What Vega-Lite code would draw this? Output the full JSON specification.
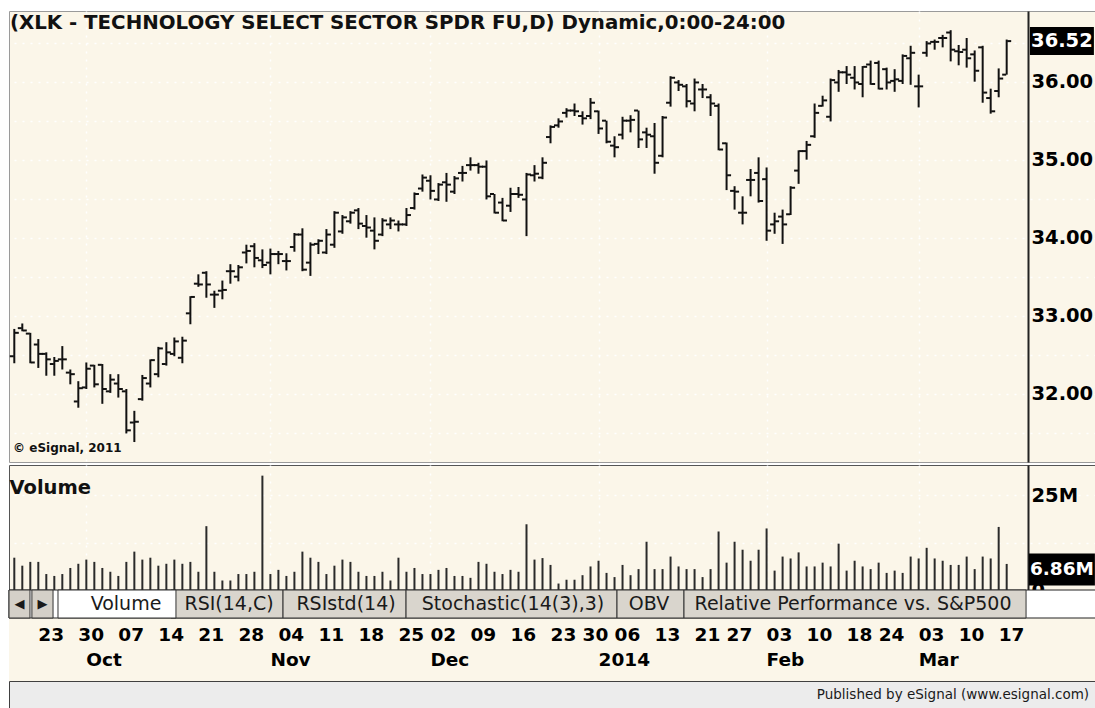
{
  "$schema": "https://vega.github.io/schema/vega-lite/v6.json",
  "background": "#FFFFFF",
  "padding": {"left": 8, "top": 10, "right": 0, "bottom": 0},
  "spacing": 3,
  "bounds": "flush",
  "config": {
    "font": "DejaVu Sans",
    "text": {"font": "DejaVu Sans"},
    "axis": {"labelFont": "DejaVu Sans"}
  },
  "datasets": {
    "bars": [
      {"i":0,"o":32.48,"h":32.83,"l":32.39,"c":32.78,"v":8.5},
      {"i":1,"o":32.84,"h":32.90,"l":32.80,"c":32.81,"v":6.4},
      {"i":2,"o":32.77,"h":32.78,"l":32.39,"c":32.40,"v":7.4},
      {"i":3,"o":32.63,"h":32.70,"l":32.33,"c":32.51,"v":7.4},
      {"i":4,"o":32.51,"h":32.53,"l":32.23,"c":32.44,"v":4.2},
      {"i":5,"o":32.38,"h":32.47,"l":32.23,"c":32.42,"v":3.7},
      {"i":6,"o":32.44,"h":32.61,"l":32.31,"c":32.44,"v":4.2},
      {"i":7,"o":32.27,"h":32.31,"l":32.12,"c":32.25,"v":5.8},
      {"i":8,"o":31.90,"h":32.16,"l":31.82,"c":32.07,"v":6.9},
      {"i":9,"o":32.08,"h":32.40,"l":32.06,"c":32.32,"v":8.0},
      {"i":10,"o":32.36,"h":32.37,"l":32.08,"c":32.12,"v":7.4},
      {"i":11,"o":32.37,"h":32.38,"l":31.87,"c":32.06,"v":5.8},
      {"i":12,"o":32.03,"h":32.25,"l":32.01,"c":32.18,"v":4.8},
      {"i":13,"o":32.13,"h":32.25,"l":31.95,"c":32.06,"v":3.7},
      {"i":14,"o":32.03,"h":32.06,"l":31.49,"c":31.53,"v":7.4},
      {"i":15,"o":31.63,"h":31.78,"l":31.38,"c":31.64,"v":10.1},
      {"i":16,"o":31.93,"h":32.24,"l":31.91,"c":32.20,"v":8.0},
      {"i":17,"o":32.13,"h":32.44,"l":32.08,"c":32.43,"v":8.5},
      {"i":18,"o":32.25,"h":32.60,"l":32.21,"c":32.58,"v":6.4},
      {"i":19,"o":32.38,"h":32.66,"l":32.36,"c":32.53,"v":6.9},
      {"i":20,"o":32.51,"h":32.72,"l":32.48,"c":32.67,"v":8.0},
      {"i":21,"o":32.46,"h":32.73,"l":32.39,"c":32.68,"v":6.9},
      {"i":22,"o":33.03,"h":33.25,"l":32.89,"c":33.24,"v":7.4},
      {"i":23,"o":33.41,"h":33.53,"l":33.37,"c":33.40,"v":4.8},
      {"i":24,"o":33.55,"h":33.57,"l":33.23,"c":33.40,"v":16.8},
      {"i":25,"o":33.27,"h":33.32,"l":33.10,"c":33.27,"v":4.8},
      {"i":26,"o":33.32,"h":33.45,"l":33.21,"c":33.33,"v":2.5},
      {"i":27,"o":33.57,"h":33.66,"l":33.41,"c":33.57,"v":2.5},
      {"i":28,"o":33.50,"h":33.65,"l":33.44,"c":33.62,"v":4.2},
      {"i":29,"o":33.81,"h":33.91,"l":33.67,"c":33.83,"v":4.2},
      {"i":30,"o":33.89,"h":33.93,"l":33.62,"c":33.74,"v":4.8},
      {"i":31,"o":33.71,"h":33.85,"l":33.61,"c":33.65,"v":30.1},
      {"i":32,"o":33.68,"h":33.86,"l":33.53,"c":33.79,"v":4.2},
      {"i":33,"o":33.79,"h":33.83,"l":33.66,"c":33.79,"v":5.3},
      {"i":34,"o":33.70,"h":33.80,"l":33.58,"c":33.70,"v":3.7},
      {"i":35,"o":33.88,"h":34.06,"l":33.82,"c":34.04,"v":4.8},
      {"i":36,"o":34.04,"h":34.12,"l":33.57,"c":33.59,"v":10.1},
      {"i":37,"o":33.68,"h":33.94,"l":33.51,"c":33.91,"v":8.5},
      {"i":38,"o":33.92,"h":33.98,"l":33.79,"c":33.96,"v":7.4},
      {"i":39,"o":33.81,"h":34.11,"l":33.79,"c":34.04,"v":4.2},
      {"i":40,"o":33.91,"h":34.34,"l":33.87,"c":34.32,"v":6.4},
      {"i":41,"o":34.08,"h":34.29,"l":34.05,"c":34.26,"v":8.0},
      {"i":42,"o":34.21,"h":34.34,"l":34.18,"c":34.32,"v":7.4},
      {"i":43,"o":34.35,"h":34.38,"l":34.11,"c":34.18,"v":4.8},
      {"i":44,"o":34.15,"h":34.29,"l":34.00,"c":34.13,"v":3.7},
      {"i":45,"o":34.09,"h":34.26,"l":33.85,"c":33.96,"v":3.7},
      {"i":46,"o":34.04,"h":34.25,"l":34.02,"c":34.22,"v":4.8},
      {"i":47,"o":34.17,"h":34.26,"l":34.11,"c":34.22,"v":2.5},
      {"i":48,"o":34.17,"h":34.22,"l":34.08,"c":34.17,"v":8.5},
      {"i":49,"o":34.17,"h":34.38,"l":34.15,"c":34.29,"v":4.8},
      {"i":50,"o":34.38,"h":34.58,"l":34.36,"c":34.56,"v":5.8},
      {"i":51,"o":34.63,"h":34.81,"l":34.59,"c":34.77,"v":4.2},
      {"i":52,"o":34.73,"h":34.80,"l":34.49,"c":34.60,"v":4.2},
      {"i":53,"o":34.49,"h":34.70,"l":34.47,"c":34.68,"v":5.3},
      {"i":54,"o":34.71,"h":34.83,"l":34.46,"c":34.68,"v":5.8},
      {"i":55,"o":34.59,"h":34.79,"l":34.56,"c":34.76,"v":3.7},
      {"i":56,"o":34.83,"h":34.92,"l":34.72,"c":34.83,"v":3.7},
      {"i":57,"o":34.93,"h":35.03,"l":34.86,"c":34.93,"v":3.2},
      {"i":58,"o":34.93,"h":34.96,"l":34.82,"c":34.91,"v":7.4},
      {"i":59,"o":34.91,"h":34.99,"l":34.49,"c":34.53,"v":6.9},
      {"i":60,"o":34.56,"h":34.56,"l":34.31,"c":34.32,"v":4.8},
      {"i":61,"o":34.45,"h":34.51,"l":34.21,"c":34.22,"v":4.2},
      {"i":62,"o":34.41,"h":34.64,"l":34.33,"c":34.56,"v":5.3},
      {"i":63,"o":34.56,"h":34.65,"l":34.51,"c":34.55,"v":4.8},
      {"i":64,"o":34.49,"h":34.83,"l":34.02,"c":34.81,"v":17.3},
      {"i":65,"o":34.80,"h":34.93,"l":34.72,"c":34.82,"v":8.0},
      {"i":66,"o":34.77,"h":35.03,"l":34.75,"c":34.96,"v":8.4},
      {"i":67,"o":35.29,"h":35.44,"l":35.21,"c":35.42,"v":6.6},
      {"i":68,"o":35.44,"h":35.53,"l":35.41,"c":35.49,"v":1.7},
      {"i":69,"o":35.60,"h":35.66,"l":35.54,"c":35.63,"v":2.7},
      {"i":70,"o":35.63,"h":35.72,"l":35.56,"c":35.62,"v":2.7},
      {"i":71,"o":35.56,"h":35.62,"l":35.45,"c":35.53,"v":3.9},
      {"i":72,"o":35.56,"h":35.79,"l":35.52,"c":35.73,"v":6.2},
      {"i":73,"o":35.62,"h":35.63,"l":35.33,"c":35.40,"v":7.7},
      {"i":74,"o":35.50,"h":35.50,"l":35.21,"c":35.23,"v":4.5},
      {"i":75,"o":35.18,"h":35.30,"l":35.03,"c":35.16,"v":3.4},
      {"i":76,"o":35.32,"h":35.55,"l":35.26,"c":35.50,"v":6.6},
      {"i":77,"o":35.50,"h":35.57,"l":35.35,"c":35.51,"v":3.9},
      {"i":78,"o":35.63,"h":35.63,"l":35.15,"c":35.26,"v":5.5},
      {"i":79,"o":35.35,"h":35.41,"l":35.15,"c":35.32,"v":12.7},
      {"i":80,"o":35.30,"h":35.47,"l":34.82,"c":34.96,"v":5.5},
      {"i":81,"o":35.05,"h":35.56,"l":35.03,"c":35.54,"v":5.5},
      {"i":82,"o":35.73,"h":36.07,"l":35.68,"c":36.05,"v":8.8},
      {"i":83,"o":35.99,"h":36.02,"l":35.88,"c":35.96,"v":6.2},
      {"i":84,"o":35.94,"h":35.97,"l":35.67,"c":35.75,"v":5.5},
      {"i":85,"o":35.72,"h":36.04,"l":35.62,"c":35.99,"v":5.5},
      {"i":86,"o":35.90,"h":35.97,"l":35.79,"c":35.90,"v":3.4},
      {"i":87,"o":35.80,"h":35.84,"l":35.56,"c":35.72,"v":5.5},
      {"i":88,"o":35.69,"h":35.72,"l":35.12,"c":35.13,"v":15.4},
      {"i":89,"o":35.21,"h":35.22,"l":34.61,"c":34.80,"v":7.2},
      {"i":90,"o":34.60,"h":34.66,"l":34.36,"c":34.59,"v":12.7},
      {"i":91,"o":34.32,"h":34.53,"l":34.17,"c":34.32,"v":10.6},
      {"i":92,"o":34.74,"h":34.88,"l":34.53,"c":34.74,"v":7.7},
      {"i":93,"o":34.83,"h":35.03,"l":34.45,"c":34.47,"v":10.6},
      {"i":94,"o":34.75,"h":34.90,"l":33.96,"c":34.09,"v":16.2},
      {"i":95,"o":34.17,"h":34.32,"l":34.05,"c":34.21,"v":5.1},
      {"i":96,"o":34.27,"h":34.36,"l":33.92,"c":34.17,"v":8.8},
      {"i":97,"o":34.30,"h":34.66,"l":34.29,"c":34.64,"v":8.3},
      {"i":98,"o":34.86,"h":35.12,"l":34.69,"c":35.11,"v":9.9},
      {"i":99,"o":35.11,"h":35.24,"l":35.00,"c":35.19,"v":6.2},
      {"i":100,"o":35.30,"h":35.72,"l":35.28,"c":35.60,"v":6.2},
      {"i":101,"o":35.69,"h":35.82,"l":35.68,"c":35.76,"v":7.2},
      {"i":102,"o":35.55,"h":36.04,"l":35.49,"c":36.02,"v":6.2},
      {"i":103,"o":35.99,"h":36.15,"l":35.87,"c":36.12,"v":12.2},
      {"i":104,"o":36.12,"h":36.20,"l":35.97,"c":36.09,"v":5.1},
      {"i":105,"o":36.05,"h":36.20,"l":35.90,"c":35.99,"v":7.7},
      {"i":106,"o":35.97,"h":36.20,"l":35.80,"c":36.19,"v":6.2},
      {"i":107,"o":36.22,"h":36.27,"l":35.96,"c":35.97,"v":5.5},
      {"i":108,"o":36.24,"h":36.27,"l":35.90,"c":35.91,"v":7.2},
      {"i":109,"o":36.16,"h":36.18,"l":35.90,"c":35.99,"v":4.5},
      {"i":110,"o":36.01,"h":36.16,"l":35.87,"c":36.03,"v":5.1},
      {"i":111,"o":36.01,"h":36.35,"l":35.97,"c":36.33,"v":4.5},
      {"i":112,"o":36.30,"h":36.46,"l":35.96,"c":36.37,"v":8.8},
      {"i":113,"o":35.94,"h":36.09,"l":35.67,"c":35.94,"v":8.3},
      {"i":114,"o":36.37,"h":36.52,"l":36.32,"c":36.49,"v":11.1},
      {"i":115,"o":36.51,"h":36.54,"l":36.41,"c":36.51,"v":8.3},
      {"i":116,"o":36.56,"h":36.60,"l":36.44,"c":36.56,"v":7.7},
      {"i":117,"o":36.63,"h":36.66,"l":36.26,"c":36.41,"v":6.6},
      {"i":118,"o":36.39,"h":36.47,"l":36.21,"c":36.38,"v":6.6},
      {"i":119,"o":36.41,"h":36.56,"l":36.18,"c":36.30,"v":8.8},
      {"i":120,"o":36.35,"h":36.40,"l":36.00,"c":36.14,"v":5.5},
      {"i":121,"o":36.44,"h":36.46,"l":35.73,"c":35.86,"v":8.8},
      {"i":122,"o":35.79,"h":35.91,"l":35.59,"c":35.62,"v":8.3},
      {"i":123,"o":35.88,"h":36.17,"l":35.80,"c":36.04,"v":16.6},
      {"i":124,"o":36.09,"h":36.54,"l":36.09,"c":36.52,"v":6.86}
    ],
    "dates": [
      {"i":3,"t":"23","r":"days"},{"i":8,"t":"30","r":"days"},{"i":13,"t":"07","r":"days"},
      {"i":18,"t":"14","r":"days"},{"i":23,"t":"21","r":"days"},{"i":28,"t":"28","r":"days"},
      {"i":33,"t":"04","r":"days"},{"i":38,"t":"11","r":"days"},{"i":43,"t":"18","r":"days"},
      {"i":48,"t":"25","r":"days"},{"i":52,"t":"02","r":"days"},{"i":57,"t":"09","r":"days"},
      {"i":62,"t":"16","r":"days"},{"i":67,"t":"23","r":"days"},{"i":71,"t":"30","r":"days"},
      {"i":75,"t":"06","r":"days"},{"i":80,"t":"13","r":"days"},{"i":85,"t":"21","r":"days"},
      {"i":89,"t":"27","r":"days"},{"i":94,"t":"03","r":"days"},{"i":99,"t":"10","r":"days"},
      {"i":104,"t":"18","r":"days"},{"i":108,"t":"24","r":"days"},{"i":113,"t":"03","r":"days"},
      {"i":118,"t":"10","r":"days"},{"i":123,"t":"17","r":"days"},
      {"i":9,"t":"Oct","r":"months"},{"i":32,"t":"Nov","r":"months"},{"i":52,"t":"Dec","r":"months"},
      {"i":73,"t":"2014","r":"months"},{"i":94,"t":"Feb","r":"months"},{"i":113,"t":"Mar","r":"months"}
    ],
    "tabs": [
      {"t":"◀","a":-0.66,"b":1.96,"m":0.65,"s":"btn"},
      {"t":"▶","a":2.2,"b":4.84,"m":3.52,"s":"btn"},
      {"t":"RSI(14,C)","a":19.58,"b":33.58,"m":26.83,"s":"tab"},
      {"t":"RSIstd(14)","a":33.58,"b":48.95,"m":41.45,"s":"tab"},
      {"t":"Stochastic(14(3),3)","a":48.95,"b":75.31,"m":62.31,"s":"tab"},
      {"t":"OBV","a":75.31,"b":83.68,"m":79.31,"s":"tab"},
      {"t":"Relative Performance vs. S&P500","a":83.68,"b":126.42,"m":104.8,"s":"tab"},
      {"t":"Volume","a":5.46,"b":20.2,"m":13.96,"s":"sel"}
    ]
  },
  "vconcat": [
    {
      "width": 1087,
      "height": 451,
      "view": {"fill": "#FBF6E9", "stroke": "#9A9A9A"},
      "layer": [
        {
          "data": {"name": "bars"},
          "mark": {"type": "rule", "strokeWidth": 2, "color": "#111111"},
          "encoding": {
            "x": {"field": "i", "type": "quantitative",
              "scale": {"domain": [-0.662, 135.16], "nice": false, "zero": false},
              "axis": {"values": [9, 32, 52, 73, 94, 113], "grid": true, "gridColor": "#FFFFFF", "gridDash": [2, 6], "gridWidth": 1.5, "labels": false, "ticks": false, "domain": false, "title": null}},
            "y": {"field": "l", "type": "quantitative",
              "scale": {"domain": [31.124, 36.906], "nice": false, "zero": false},
              "axis": {"orient": "right", "offset": -68, "values": [31.5, 32, 32.5, 33, 33.5, 34, 34.5, 35, 35.5, 36, 36.5],
                "labelExpr": "datum.value % 1 == 0 ? format(datum.value, '.2f') : ''",
                "labelFontWeight": "bold", "labelFontSize": 19.5, "labelColor": "#000000", "labelPadding": 3,
                "labelAlign": "left", "labelBaseline": "middle", "labelBound": false, "labelFlush": false, "labelOverlap": false,
                "ticks": false, "domainColor": "#222222", "domainWidth": 2,
                "grid": true, "gridColor": "#FFFFFF", "gridDash": [2, 6], "gridWidth": 1.5, "title": null}},
            "y2": {"field": "h"}
          }
        },
        {
          "data": {"name": "bars"},
          "mark": {"type": "tick", "orient": "horizontal", "size": 4, "thickness": 2, "xOffset": -2.5, "color": "#111111", "opacity": 1},
          "encoding": {
            "x": {"field": "i", "type": "quantitative"},
            "y": {"field": "o", "type": "quantitative"}
          }
        },
        {
          "data": {"name": "bars"},
          "mark": {"type": "tick", "orient": "horizontal", "size": 4, "thickness": 2, "xOffset": 2.5, "color": "#111111", "opacity": 1},
          "encoding": {
            "x": {"field": "i", "type": "quantitative"},
            "y": {"field": "c", "type": "quantitative"}
          }
        },
        {
          "data": {"name": "bars"},
          "transform": [{"filter": "datum.i == 124"}],
          "mark": {"type": "tick", "orient": "horizontal", "size": 64, "thickness": 28, "color": "#000000", "opacity": 1},
          "encoding": {
            "x": {"datum": 130.9},
            "y": {"field": "c", "type": "quantitative"}
          }
        },
        {
          "data": {"name": "bars"},
          "transform": [{"filter": "datum.i == 124"}],
          "mark": {"type": "text", "color": "#FFFFFF", "fontWeight": "bold", "fontSize": 19.5, "align": "center", "baseline": "middle"},
          "encoding": {
            "x": {"datum": 130.9},
            "y": {"field": "c", "type": "quantitative"},
            "text": {"field": "c", "type": "quantitative", "format": ".2f"}
          }
        },
        {
          "data": {"values": [{"label": "(XLK - TECHNOLOGY SELECT SECTOR SPDR FU,D) Dynamic,0:00-24:00"}]},
          "mark": {"type": "text", "align": "left", "baseline": "middle", "fontWeight": "bold", "fontSize": 19.8, "color": "#111111"},
          "encoding": {
            "x": {"datum": -0.55},
            "y": {"datum": 36.75},
            "text": {"field": "label"}
          }
        },
        {
          "data": {"values": [{"label": "© eSignal, 2011"}]},
          "mark": {"type": "text", "align": "left", "baseline": "middle", "fontWeight": "bold", "fontSize": 12, "color": "#111111"},
          "encoding": {
            "x": {"datum": -0.15},
            "y": {"datum": 31.3},
            "text": {"field": "label"}
          }
        }
      ]
    },
    {
      "spacing": 0,
      "bounds": "flush",
      "vconcat": [
        {
          "width": 1087,
          "height": 125,
          "view": {"fill": "#FBF6E9", "stroke": "#555555"},
          "layer": [
            {
              "data": {"name": "bars"},
              "mark": {"type": "rule", "strokeWidth": 2, "color": "#2A2A2A"},
              "encoding": {
                "x": {"field": "i", "type": "quantitative",
                  "scale": {"domain": [-0.662, 135.16], "nice": false, "zero": false},
                  "axis": {"values": [9, 32, 52, 73, 94, 113], "grid": true, "gridColor": "#FFFFFF", "gridDash": [2, 6], "gridWidth": 1.5, "labels": false, "ticks": false, "domain": false, "title": null}},
                "y": {"field": "v", "type": "quantitative",
                  "scale": {"domain": [0, 32.9], "nice": false, "zero": false},
                  "axis": {"orient": "right", "offset": -68, "values": [0, 12.5, 25],
                    "labelExpr": "datum.value == 25 ? '25M' : (datum.value == 0 ? '0' : '')",
                    "labelFontWeight": "bold", "labelFontSize": 19.5, "labelColor": "#000000", "labelPadding": 3,
                    "labelAlign": "left", "labelBaseline": "middle", "labelBound": false, "labelFlush": false, "labelOverlap": false,
                    "ticks": false, "domainColor": "#222222", "domainWidth": 2,
                    "grid": true, "gridColor": "#FFFFFF", "gridDash": [2, 6], "gridWidth": 1.5, "title": null}},
                "y2": {"datum": 0}
              }
            },
            {
              "data": {"name": "bars"},
              "transform": [{"filter": "datum.i == 124"}],
              "mark": {"type": "tick", "orient": "horizontal", "size": 66, "thickness": 32, "color": "#000000", "opacity": 1, "yOffset": 5.5},
              "encoding": {
                "x": {"datum": 130.9},
                "y": {"field": "v", "type": "quantitative"}
              }
            },
            {
              "data": {"name": "bars"},
              "transform": [{"filter": "datum.i == 124"}, {"calculate": "format(datum.v, '.2f') + 'M'", "as": "lab"}],
              "mark": {"type": "text", "color": "#FFFFFF", "fontWeight": "bold", "fontSize": 18.5, "align": "center", "baseline": "middle", "yOffset": 5.5},
              "encoding": {
                "x": {"datum": 130.9},
                "y": {"field": "v", "type": "quantitative"},
                "text": {"field": "lab"}
              }
            },
            {
              "data": {"values": [{"label": "Volume"}]},
              "mark": {"type": "text", "align": "left", "baseline": "middle", "fontWeight": "bold", "fontSize": 19.5, "color": "#111111"},
              "encoding": {
                "x": {"datum": -0.6},
                "y": {"datum": 26.8},
                "text": {"field": "label"}
              }
            }
          ]
        },
        {
          "width": 1087,
          "height": 91,
          "view": {"fill": "#FBF6E9", "stroke": null},
          "layer": [
            {
              "data": {"values": [{"r": "tabs"}]},
              "mark": {"type": "rect", "color": "#FFFFFF", "stroke": "#222222", "strokeWidth": 1},
              "encoding": {
                "x": {"datum": -0.662, "scale": {"domain": [-0.662, 135.16], "nice": false, "zero": false}, "axis": null},
                "x2": {"datum": 135.16},
                "y": {"field": "r", "type": "nominal", "scale": {"domain": ["tabs", "days", "months"], "range": [0, 84], "paddingInner": 0, "paddingOuter": 0}, "axis": null}
              }
            },
            {
              "data": {"name": "tabs"},
              "mark": {"type": "rect", "stroke": "#333333", "strokeWidth": 1},
              "encoding": {
                "x": {"field": "a", "type": "quantitative"},
                "x2": {"field": "b"},
                "y": {"datum": "tabs", "type": "nominal"},
                "fill": {"field": "s", "type": "nominal", "scale": {"domain": ["btn", "tab", "sel"], "range": ["#D4D0C8", "#D9D5CD", "#FFFFFF"]}, "legend": null}
              }
            },
            {
              "data": {"name": "tabs"},
              "mark": {"type": "text", "align": "center", "baseline": "middle", "color": "#1A1A1A"},
              "encoding": {
                "x": {"field": "m", "type": "quantitative"},
                "y": {"datum": "tabs", "type": "nominal"},
                "text": {"field": "t"},
                "size": {"condition": {"test": "datum.s == 'btn'", "value": 13}, "value": 19}
              }
            },
            {
              "data": {"name": "dates"},
              "transform": [{"filter": "datum.r == 'days'"}],
              "mark": {"type": "text", "align": "left", "baseline": "middle", "fontWeight": "bold", "fontSize": 18.5, "color": "#000000", "dy": 3},
              "encoding": {
                "x": {"field": "i", "type": "quantitative"},
                "y": {"field": "r", "type": "nominal"},
                "text": {"field": "t"}
              }
            },
            {
              "data": {"name": "dates"},
              "transform": [{"filter": "datum.r == 'months'"}],
              "mark": {"type": "text", "align": "left", "baseline": "middle", "fontWeight": "bold", "fontSize": 18.5, "color": "#000000", "dy": 0},
              "encoding": {
                "x": {"field": "i", "type": "quantitative"},
                "y": {"field": "r", "type": "nominal"},
                "text": {"field": "t"}
              }
            }
          ]
        },
        {
          "width": 1087,
          "height": 28,
          "view": {"fill": "#ECECEC", "stroke": "#404040"},
          "data": {"values": [{"label": "Published by eSignal (www.esignal.com)"}]},
          "mark": {"type": "text", "align": "right", "baseline": "middle", "fontSize": 13.5, "color": "#1A1A1A"},
          "encoding": {
            "x": {"datum": 134.3, "scale": {"domain": [-0.662, 135.16], "nice": false, "zero": false}, "axis": null},
            "text": {"field": "label"}
          }
        }
      ]
    }
  ]
}
